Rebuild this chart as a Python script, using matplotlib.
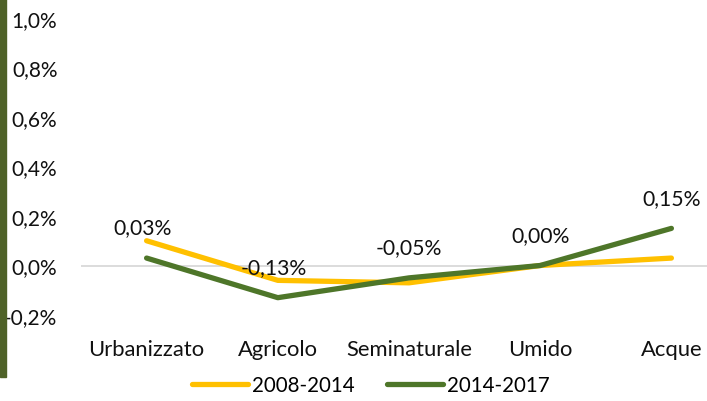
import matplotlib.pyplot as plt
from matplotlib.patches import Rectangle
from matplotlib.ticker import FuncFormatter

plt.rcParams['font.family'] = ['Lato', 'DejaVu Sans']

categorie = ['Urbanizzato', 'Agricolo', 'Seminaturale', 'Umido', 'Acque']
serie_2008_2014 = [0.10, -0.06, -0.07, 0.00, 0.03]
serie_2014_2017 = [0.03, -0.13, -0.05, 0.00, 0.15]
etichette = ['0,03%', '-0,13%', '-0,05%', '0,00%', '0,15%']

giallo = '#FFC000'
verde = '#4E7629'

W, H = 707, 402
fig = plt.figure(figsize=(W / 100, H / 100), dpi=100)
# plot area runs past the right edge, as in the original crop
ax = fig.add_axes([81 / W, (H - 316) / H, (737 - 81) / W, (316 - 19) / H])

x = list(range(len(categorie)))
ax.axhline(0, color='#D9D9D9', lw=1.3, zorder=1)
ax.plot(x, serie_2008_2014, color=giallo, lw=3.8, solid_capstyle='round',
        label='2008-2014', zorder=2)
ax.plot(x, serie_2014_2017, color=verde, lw=3.8, solid_capstyle='round',
        label='2014-2017', zorder=3)

for xi, yi, t in zip(x, serie_2014_2017, etichette):
    ax.annotate(t, (xi, yi), xytext=(-3 if xi < 2 else 0, 22), textcoords='offset points',
                ha='center', va='center', fontsize=15.2, color='#111111')

ax.set_xlim(-0.5, 4.5)
ax.set_ylim(-0.2, 1.0)
ax.set_yticks([-0.2, 0.0, 0.2, 0.4, 0.6, 0.8, 1.0])
ax.yaxis.set_major_formatter(FuncFormatter(lambda v, p: f'{v:.1f}%'.replace('.', ',')))
ax.set_xticks(x)
ax.set_xticklabels(categorie)
ax.tick_params(axis='y', length=0, pad=17, labelsize=15, labelcolor='#111111')
ax.tick_params(axis='x', length=0, pad=17, labelsize=15.8, labelcolor='#111111')
for s in ax.spines.values():
    s.set_visible(False)
ax.patch.set_alpha(0)

fig.legend(loc='center', bbox_to_anchor=(371 / W, 1 - 386 / H), ncol=2, frameon=False,
           fontsize=14.8, handlelength=2.7, handletextpad=0.2, columnspacing=1.6)

# dark green band on the left edge
fig.patches.append(Rectangle((0, 1 - 378 / H), 6 / W, 378 / H, transform=fig.transFigure,
                             color='#4F6228', zorder=0))

fig.savefig('out.png', dpi=100)
